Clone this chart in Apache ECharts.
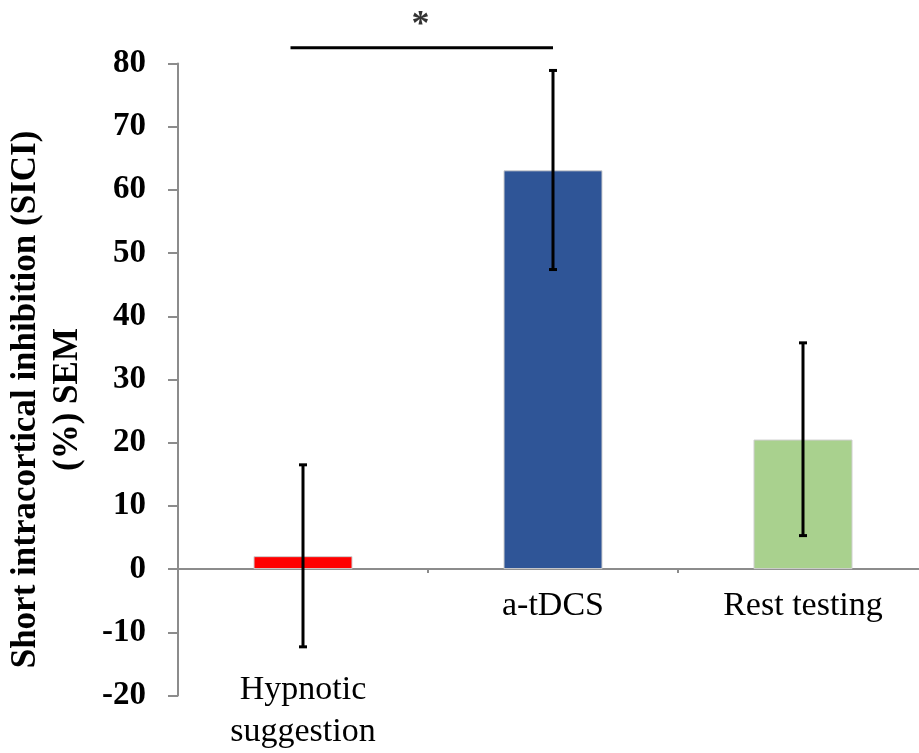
<!DOCTYPE html>
<html>
<head>
<meta charset="utf-8">
<script src="https://cdn.jsdelivr.net/npm/echarts@6/dist/echarts.min.js"></script>
<style>html,body{margin:0;padding:0;background:#fff;}#c{width:919px;height:753px;}</style>
</head>
<body>
<div id="c"></div>
<script>
const categories = ['Hypnotic suggestion', 'a-tDCS', 'Rest testing'];
const means = [2.05, 63.1, 20.5];
const errLow = [-12.3, 47.4, 5.3];
const errHigh = [16.5, 78.9, 35.8];
const barColors = ['#FF0000', '#2F5597', '#A9D18E'];
const yTicks = [-20, -10, 0, 10, 20, 30, 40, 50, 60, 70, 80];
const sigBracket = [[-0.05, 82.5], [1.0, 82.5]];
const sigStar = [[0.47, 86.0]];

const FONT = 'Liberation Serif';
const GRID_H = 632;
const yMin = yTicks[0], yMax = yTicks[yTicks.length - 1];
const zeroOffset = -GRID_H * (0 - yMin) / (yMax - yMin);

const chart = echarts.init(document.getElementById('c'), null, {renderer: 'canvas'});

const option = {
  animation: false,
  backgroundColor: '#ffffff',
  grid: {left: 178, width: 750, top: 63.5, height: GRID_H, containLabel: false, outerBoundsMode: 'none'},
  xAxis: [{
    type: 'category',
    data: categories,
    offset: zeroOffset,
    axisLine: {onZero: false, lineStyle: {color: '#8c8c8c', width: 2}},
    axisTick: {show: true, length: 4, lineStyle: {color: '#8c8c8c', width: 2}},
    axisLabel: {
      margin: 16,
      fontFamily: FONT, fontSize: 34, color: '#000', lineHeight: 42,
      formatter: function (v) {
        if (v === 'Hypnotic suggestion') return '\n\nHypnotic\nsuggestion';
        return v;
      }
    },
    splitLine: {show: false}
  }, {
    type: 'value', min: -0.5, max: 2.5, show: false
  }],
  yAxis: {
    type: 'value',
    min: yMin, max: yMax, interval: 10,
    axisLine: {show: true, onZero: false, lineStyle: {color: '#8c8c8c', width: 2}},
    axisTick: {show: true, length: 10, lineStyle: {color: '#8c8c8c', width: 2}},
    axisLabel: {margin: 32, fontFamily: FONT, fontSize: 33, fontWeight: 'bold', color: '#000'},
    splitLine: {show: false},
    name: 'Short intracortical inhibition (SICI)\n(%) SEM',
    nameLocation: 'middle',
    nameRotate: 90,
    nameGap: 89,
    nameTextStyle: {fontFamily: FONT, fontSize: 35, fontWeight: 'bold', color: '#000', lineHeight: 42, padding: [0, 40, 0, 0]}
  },
  series: [{
    type: 'bar',
    data: means.map((v, i) => ({value: v, itemStyle: {color: barColors[i]}})),
    barWidth: 99,
    itemStyle: {borderColor: '#cfcfcf', borderWidth: 1}
  }, {
    type: 'custom',
    data: categories.map((c, i) => [i, errLow[i], errHigh[i]]),
    z: 5,
    renderItem: function (params, api) {
      const x = api.value(0);
      const lo = api.coord([x, api.value(1)]);
      const hi = api.coord([x, api.value(2)]);
      const cap = 4;
      return {
        type: 'group',
        children: [
          {type: 'line', shape: {x1: lo[0], y1: lo[1], x2: hi[0], y2: hi[1]}, style: {stroke: '#000', lineWidth: 3}},
          {type: 'line', shape: {x1: lo[0] - cap, y1: lo[1], x2: lo[0] + cap, y2: lo[1]}, style: {stroke: '#000', lineWidth: 3}},
          {type: 'line', shape: {x1: hi[0] - cap, y1: hi[1], x2: hi[0] + cap, y2: hi[1]}, style: {stroke: '#000', lineWidth: 3}}
        ]
      };
    }
  }, {
    type: 'line',
    xAxisIndex: 1,
    data: sigBracket,
    clip: false,
    symbol: 'none',
    lineStyle: {color: '#000', width: 3},
    z: 6
  }, {
    type: 'scatter',
    xAxisIndex: 1,
    data: sigStar,
    clip: false,
    symbolSize: 0,
    label: {show: true, position: 'inside', formatter: '*', fontFamily: FONT, fontSize: 36, fontWeight: 'bold', color: '#000'}
  }]
};
chart.setOption(option);
</script>
</body>
</html>
